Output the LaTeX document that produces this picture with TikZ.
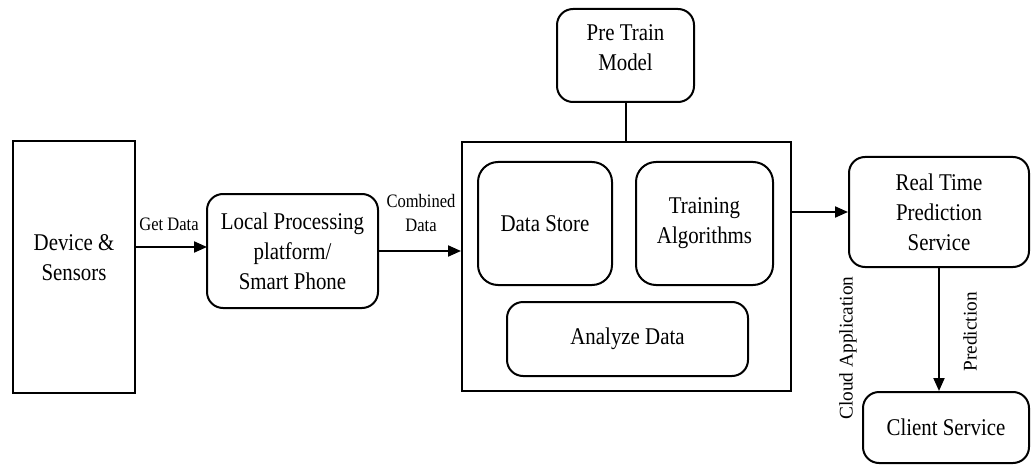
\documentclass[tikz,border=0pt]{standalone}
\usepackage{fontspec}
\newfontfamily\mainf{Liberation Serif}[FakeStretch=0.87]
\newfontfamily\rotfont{Liberation Serif}
\usetikzlibrary{arrows.meta}
\tikzset{
  box/.style={draw, line width=2pt, align=center, inner sep=0pt,
    font=\mainf\fontsize{24}{30}\selectfont},
  rbox/.style={box, rounded corners=16pt},
  arr/.style={line width=2pt, -{Triangle[length=13pt,width=11pt]}},
  conn/.style={line width=2pt},
  lbl/.style={align=center, inner sep=0pt, font=\mainf\fontsize{19}{24}\selectfont},
  vlbl/.style={inner sep=0pt, rotate=90, font=\rotfont\fontsize{19.3}{24}\selectfont}
}
\begin{document}
\begin{tikzpicture}[x=1pt,y=-1pt]
\useasboundingbox (0,0) rectangle (1032,465);
\node[box, minimum width=122pt, minimum height=252pt, text depth=19pt] (dev) at (74,267) {Device \&\\Sensors};
\node[rbox, minimum width=171pt, minimum height=114pt] (local) at (292.5,251) {Local Processing\\platform/\\Smart Phone};
\node[box, minimum width=329pt, minimum height=249pt] (cloud) at (626.5,266.5) {};
\node[rbox, minimum width=137pt, minimum height=93pt, text depth=15pt] (pre) at (625.5,55.5) {Pre Train\\Model};
\node[rbox, rounded corners=20pt, minimum width=134pt, minimum height=123pt] (ds) at (545,223.5) {Data Store};
\node[rbox, rounded corners=20pt, minimum width=137pt, minimum height=123pt] (ta) at (704.5,223.5) {Training\\Algorithms};
\node[rbox, minimum width=241pt, minimum height=74pt] (ad) at (627.5,339) {Analyze Data};
\node[rbox, minimum width=180pt, minimum height=110pt] (rt) at (939,212) {Real Time\\Prediction\\Service};
\node[rbox, minimum width=166pt, minimum height=71pt] (cs) at (946,427.5) {Client Service};

\coordinate (a1) at (135,247);
\coordinate (a2) at (207,247);
\draw[arr] (a1) -- (a2);
\draw[arr] (local.east) -- (local.east -| cloud.west);
\draw[arr] (cloud.east |- rt.west) -- (rt.west);
\draw[arr] (rt.south) -- (rt.south |- cs.north);
\draw[conn] (pre.south) -- (pre.south |- cloud.north);

\node[lbl] (getdata) at (169,224) {Get Data};
\node[lbl] (comb) at (421,213) {Combined\\Data};
\node[vlbl] (pred) at (970,332) {Prediction};
\node[vlbl] (cloudapp) at (848,348) {Cloud Application};
\end{tikzpicture}
\end{document}
